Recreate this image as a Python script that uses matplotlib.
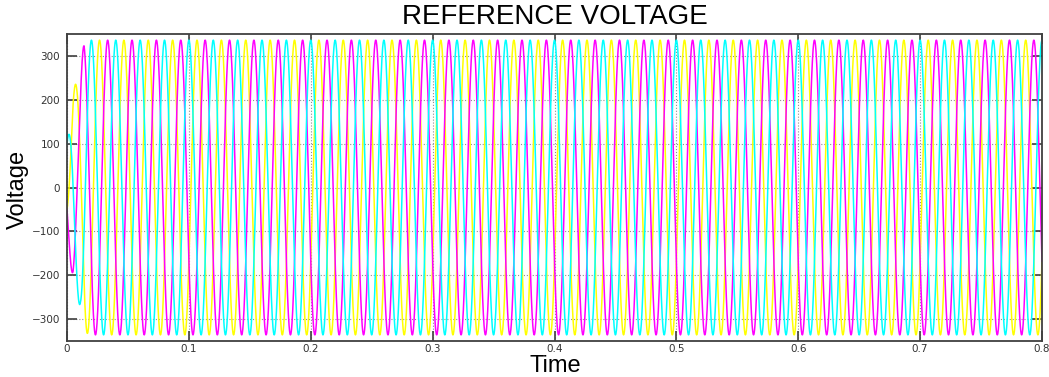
import numpy as np
import matplotlib.pyplot as plt

# three-phase reference
freq = 50.0                      # Hz, ~5 cycles per 0.1 s
peak = 336.0                     # steady-state peak voltage
phase_deg = [-120.0, -240.0, 0.0]   # yellow, magenta, cyan (cos reference)
colors = ['#ffff00', '#ff00ff', '#00ffff']
# start-up envelope (time, amplitude) estimated from the first cycle
env_t = [0.0, 0.005, 0.008, 0.011, 0.014, 0.02, 0.8]
env_a = [100.0, 220.0, 245.0, 275.0, 330.0, peak, peak]

t_end = 0.8
xticks = np.arange(0, 0.81, 0.1)
yticks = np.arange(-300, 301, 100)

t = np.arange(0, t_end + 1e-9, 2e-4)
amp = np.interp(t, env_t, env_a)

fig = plt.figure(figsize=(10.49, 3.77), dpi=100)
ax = fig.add_axes([0.0639, 0.0955, 0.9294, 0.8143])

for ph, c in zip(phase_deg, colors):
    v = amp * np.cos(2 * np.pi * freq * t + np.deg2rad(ph))
    ax.plot(t, v, color=c, lw=1.1)

ax.set_xlim(0, t_end)
ax.set_ylim(-350, 350)
ax.set_xticks(xticks)
ax.set_xticklabels(['0' if x == 0 else f'{x:.1f}' for x in xticks])
ax.set_yticks(yticks)
ax.grid(True, ls=':', color='#909090', lw=0.8)
ax.tick_params(direction='in', length=7, width=1.2, top=True, right=True,
               labelsize=7.5, labelcolor='#333333', color='#404040')
ax.tick_params(axis='x', pad=2)
ax.tick_params(axis='y', pad=5)
for s in ax.spines.values():
    s.set_color('#404040')
    s.set_linewidth(1.3)

fig.text(0.529, 0.955, 'REFERENCE VOLTAGE', ha='center', va='center',
         fontsize=20, family='Liberation Sans')
fig.text(0.017, 0.497, 'Voltage', ha='center', va='center', rotation=90,
         fontsize=17, family='Liberation Sans')
fig.text(0.529, 0.0133, 'Time', ha='center', va='baseline',
         fontsize=17, family='Liberation Sans')

plt.savefig('out.png', dpi=100)
